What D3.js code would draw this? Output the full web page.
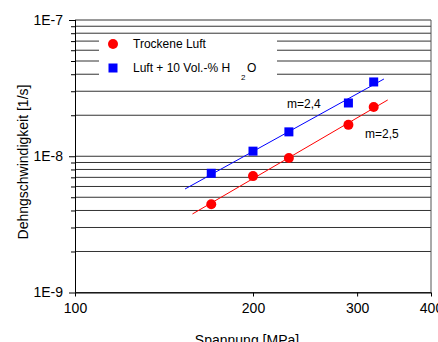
<!DOCTYPE html>
<html>
<head>
<meta charset="utf-8">
<script src="https://cdn.jsdelivr.net/npm/d3@7"></script>
<style>
  body { margin: 0; background: #fff; }
  svg { display: block; font-family: "Liberation Sans", Arial, sans-serif; }
</style>
</head>
<body>
<div id="chart"></div>
<script>
// measured points
const stressDry = [170, 200, 230, 290, 320];
const rateDry = [4.45e-9, 7.15e-9, 9.7e-9, 1.7e-8, 2.3e-8];
const stressWet = [170, 200, 230, 290, 320];
const rateWet = [7.5e-9, 1.09e-8, 1.51e-8, 2.46e-8, 3.51e-8];

// fitted lines (end points)
const fitDryStress = [158, 338];
const fitDryRate = [3.77e-9, 2.59e-8];
const fitWetStress = [153.5, 333];
const fitWetRate = [5.75e-9, 3.69e-8];

const xTicks = [100, 200, 300, 400];
const yTicks = [1e-9, 1e-8, 1e-7];
const yTickLabels = ["1E-9", "1E-8", "1E-7"];
const legendLabels = ["Trockene Luft", "Luft + 10 Vol.-% H"];

const width = 438, height = 342;
const margin = { top: 20, right: 7, bottom: 49.5, left: 75 };

const svg = d3.select("#chart").append("svg")
    .attr("width", width)
    .attr("height", height);

const x = d3.scaleLog()
    .domain([100, 400])
    .range([margin.left, width - margin.right]);

const y = d3.scaleLog()
    .domain([1e-9, 1e-7])
    .range([height - margin.bottom, margin.top]);

// all grid values 1..9 per decade
const gridVals = [];
[1e-9, 1e-8].forEach(function (dec) {
    for (let k = 1; k < 10; k++) gridVals.push(k * dec);
});
gridVals.push(1e-7);

svg.append("g")
    .selectAll("line")
    .data(gridVals)
    .join("line")
    .attr("x1", x(100))
    .attr("x2", x(400))
    .attr("y1", d => y(d))
    .attr("y2", d => y(d))
    .attr("stroke", "#333")
    .attr("stroke-width", 1);

// right frame
svg.append("line")
    .attr("x1", x(400)).attr("x2", x(400))
    .attr("y1", y(1e-7)).attr("y2", y(1e-9))
    .attr("stroke", "#555");

// legend box covers the grid
svg.append("rect")
    .attr("x", 99)
    .attr("y", 36)
    .attr("width", 178)
    .attr("height", 40)
    .attr("fill", "#fff");

// y axis
const yAxis = svg.append("g")
    .attr("transform", `translate(${margin.left},0)`)
    .call(d3.axisLeft(y)
        .tickValues(gridVals)
        .tickSize(4)
        .tickFormat(d => {
            const i = yTicks.findIndex(t => Math.abs(t - d) / t < 1e-6);
            return i >= 0 ? yTickLabels[i] : "";
        }));
yAxis.select(".domain").attr("stroke", "#000").attr("d", `M0.5,${y(1e-9)}V${y(1e-7)}`);
yAxis.selectAll(".tick line").attr("stroke", "#000")
    .attr("x2", d => yTicks.some(t => Math.abs(t - d) / t < 1e-6) ? -6 : -4);
yAxis.selectAll(".tick text")
    .attr("x", -12)
    .attr("fill", "#000")
    .style("font-size", "14px")
    .style("font-family", "\"Liberation Sans\", Arial, sans-serif");

// x axis
const xAxis = svg.append("g")
    .attr("transform", `translate(0,${height - margin.bottom})`)
    .call(d3.axisBottom(x)
        .tickValues(xTicks)
        .tickSize(4)
        .tickSizeOuter(0)
        .tickFormat(d3.format("d")));
xAxis.select(".domain").attr("stroke", "#000");
xAxis.selectAll(".tick line").attr("stroke", "#000");
xAxis.selectAll(".tick text")
    .attr("y", 11)
    .attr("fill", "#000")
    .style("font-size", "14px")
    .style("font-family", "\"Liberation Sans\", Arial, sans-serif");

// fit lines
const line = d3.line().x(d => x(d[0])).y(d => y(d[1]));
svg.append("path")
    .attr("d", line(d3.zip(fitWetStress, fitWetRate)))
    .attr("stroke", "#0000ff")
    .attr("fill", "none");
svg.append("path")
    .attr("d", line(d3.zip(fitDryStress, fitDryRate)))
    .attr("stroke", "#ff0000")
    .attr("fill", "none");

// markers
svg.append("g")
    .selectAll("rect")
    .data(d3.zip(stressWet, rateWet))
    .join("rect")
    .attr("x", d => x(d[0]) - 4.5)
    .attr("y", d => y(d[1]) - 4.5)
    .attr("width", 9)
    .attr("height", 9)
    .attr("fill", "#0000ff");

svg.append("g")
    .selectAll("circle")
    .data(d3.zip(stressDry, rateDry))
    .join("circle")
    .attr("cx", d => x(d[0]))
    .attr("cy", d => y(d[1]))
    .attr("r", 5)
    .attr("fill", "#ff0000");

// slope labels
svg.append("text")
    .attr("x", 287).attr("y", 108)
    .style("font-size", "12px")
    .text("m=2,4");
svg.append("text")
    .attr("x", 365).attr("y", 138)
    .style("font-size", "12px")
    .text("m=2,5");

// legend
svg.append("circle")
    .attr("cx", 113).attr("cy", 44).attr("r", 5)
    .attr("fill", "#ff0000");
svg.append("rect")
    .attr("x", 108.5).attr("y", 63.5).attr("width", 9).attr("height", 9)
    .attr("fill", "#0000ff");
svg.append("text")
    .attr("x", 133).attr("y", 48)
    .style("font-size", "12px")
    .text(legendLabels[0]);
svg.append("text")
    .attr("x", 133).attr("y", 72)
    .style("font-size", "12px")
    .text(legendLabels[1]);
svg.append("text")
    .attr("x", 241).attr("y", 80)
    .style("font-size", "8px")
    .text("2");
svg.append("text")
    .attr("x", 247).attr("y", 72)
    .style("font-size", "12px")
    .text("O");

// axis titles
svg.append("text")
    .attr("x", 247).attr("y", 345)
    .attr("text-anchor", "middle")
    .style("font-size", "14px")
    .text("Spannung [MPa]");
svg.append("text")
    .attr("transform", "translate(28,162) rotate(-90)")
    .attr("text-anchor", "middle")
    .style("font-size", "14px")
    .text("Dehngschwindigkeit [1/s]");
</script>
</body>
</html>
